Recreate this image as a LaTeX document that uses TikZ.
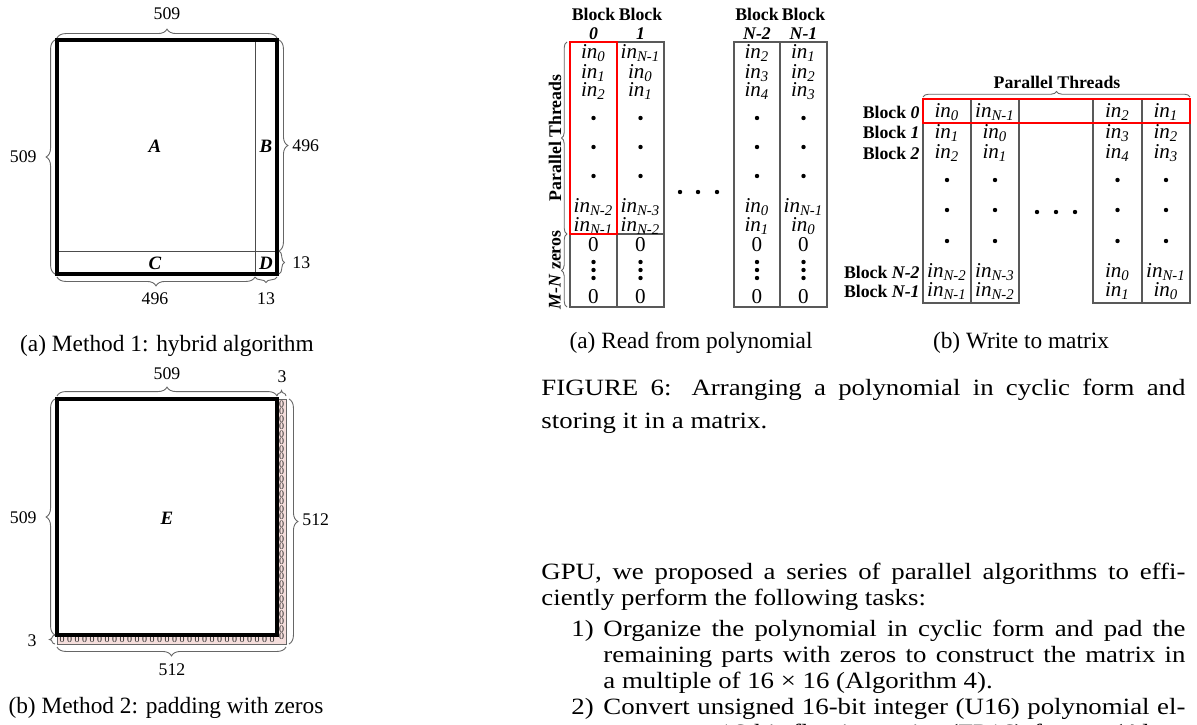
\documentclass[tikz,border=0pt]{standalone}
\usepackage{fontspec}
\setmainfont{Liberation Serif}
\newfontfamily\widefont[FakeStretch=1.15]{Liberation Serif}
\usetikzlibrary{decorations.pathreplacing}

\definecolor{padpink}{RGB}{245,222,220}
\newcommand{\cyc}[1]{\textit{in\textsubscript{#1}}}
\newcommand{\fullline}[2]{\makebox[\dimexpr0.45pt*#1\relax][s]{#2}}

\tikzset{
  brc/.style={decorate, decoration={brace, amplitude=4pt}, draw=black!60, line width=0.4pt},
  sbrc/.style={decorate, decoration={brace, amplitude=2.5pt}, draw=black!60, line width=0.4pt},
  dim/.style={font=\fontsize{8}{9}\selectfont, inner sep=0pt},
  part/.style={font=\fontsize{8.5}{10}\selectfont\bfseries\itshape, inner sep=0pt},
  cell/.style={font=\fontsize{9.5}{10}\selectfont, inner sep=0pt},
  hdr/.style={font=\fontsize{8}{9}\selectfont\bfseries, inner sep=0pt},
  captext/.style={font=\fontsize{10.5}{12}\selectfont, inner sep=0pt},
  body/.style={font=\widefont\fontsize{10.5}{12}\selectfont, inner sep=0pt, anchor=base west},
  zero/.style={font=\fontsize{4.5}{4.5}\selectfont, text=black!85, inner sep=0pt},
  thinline/.style={draw=black!70, line width=0.4pt},
  grid/.style={draw=black!65, line width=0.5pt},
}

\begin{document}
\begin{tikzpicture}[x=0.45pt, y=-0.45pt]
  \clip (0,0) rectangle (1197,724);
  \fill[white] (0,0) rectangle (1197,724);

  % method 1: hybrid algorithm
  \draw[thinline] (255,40) -- (255,274);
  \draw[thinline] (57,251) -- (277,251);
  \draw[line width=1.5pt] (57,40) rectangle (277,274);
  \node[part] (pa) at (155,146) {A};
  \node[part] (pb) at (266,146) {B};
  \node[part] (pc) at (155,263) {C};
  \node[part] (pd) at (266,263) {D};
  \draw[brc] (57,38) -- (277,38);
  \node[dim, anchor=south] (w1) at (167,20) {509};
  \draw[brc] (55,274) -- (55,40);
  \node[dim, anchor=east] (h1) at (37,157) {509};
  \draw[brc] (279,40) -- (279,251);
  \node[dim, anchor=west] (hb) at (292,146) {496};
  \draw[sbrc] (279,251) -- (279,274);
  \node[dim, anchor=west] (hd) at (292,263) {13};
  \draw[brc] (255,277) -- (57,277);
  \node[dim, anchor=north] (wc) at (155,292) {496};
  \draw[sbrc] (277,277) -- (255,277);
  \node[dim, anchor=north] (wd) at (266,292) {13};
  \node[captext] (capa) at (167,346) {(a) Method 1: hybrid algorithm};

  % method 2: padding with zeros
  \fill[padpink, draw=black!60, line width=0.4pt] (57,399) rectangle (286,644);
  \fill[white] (57,399) rectangle (277,635);
  \foreach \i in {0,...,31}
    \node[zero] (zv\i) at (281.5,404+7.5*\i) {0};
  \foreach \i in {0,...,28}
    \node[zero] (zh\i) at (62+7.5*\i,639.5) {0};
  \draw[line width=1.5pt] (57,399) rectangle (277,635);
  \node[part] (pe) at (167,518) {E};
  \draw[brc] (57,396) -- (277,396);
  \node[dim, anchor=south] (w2) at (167,380) {509};
  \draw[sbrc] (277,396) -- (286,396);
  \node[dim, anchor=south] (w3) at (282,383) {3};
  \draw[brc] (55,635) -- (55,399);
  \node[dim, anchor=east] (h2) at (37,518) {509};
  \draw[sbrc] (55,644) -- (55,635);
  \node[dim, anchor=east] (h3) at (37,641) {3};
  \draw[brc] (289,399) -- (289,644);
  \node[dim, anchor=west] (h4) at (302,520) {512};
  \draw[brc] (286,647) -- (57,647);
  \node[dim, anchor=north] (w4) at (172,663) {512};
  \node[captext] (capb) at (166,708) {(b) Method 2: padding with zeros};

  % read from polynomial
  \draw[grid] (570,42) rectangle (664,307);
  \draw[grid] (617,42) -- (617,307);
  \draw[grid] (570,234) -- (664,234);
  \draw[grid] (734,42) rectangle (827,307);
  \draw[grid] (780,42) -- (780,307);
  \foreach \k/\x/\a/\b/\c/\d/\e in {1/593.5/0/1/2/{N-2}/{N-1}, 2/640.5/{N-1}/0/1/{N-3}/{N-2}, 3/757/2/3/4/0/1, 4/803.5/1/2/3/{N-1}/0} {
    \node[cell] (rd\k-a) at (\x,53) {\cyc{\a}};
    \node[cell] (rd\k-b) at (\x,73) {\cyc{\b}};
    \node[cell] (rd\k-c) at (\x,91) {\cyc{\c}};
    \node[cell] (rd\k-d) at (\x,207) {\cyc{\d}};
    \node[cell] (rd\k-e) at (\x,226) {\cyc{\e}};
    \node[cell] (rd\k-f) at (\x,245) {0};
    \node[cell] (rd\k-g) at (\x,297) {0};
    \foreach \y in {118,147,176,262,270,278}
      \fill (\x,\y) circle (2.2);
  }
  \draw[red, line width=1pt] (570,42) rectangle (617,234);
  \foreach \x in {680,698,717}
    \fill (\x,192) circle (2.2);
  \node[hdr] (rh1) at (593.5,14) {Block};
  \node[hdr] (rh2) at (640.5,14) {Block};
  \node[hdr] (rh3) at (757,14) {Block};
  \node[hdr] (rh4) at (803.5,14) {Block};
  \node[hdr, anchor=south] (rn1) at (593.5,40) {\textit{0}};
  \node[hdr, anchor=south] (rn2) at (640.5,40) {\textit{1}};
  \node[hdr, anchor=south] (rn3) at (757,40) {\textit{N-2}};
  \node[hdr, anchor=south] (rn4) at (803.5,40) {\textit{N-1}};
  \draw[sbrc] (567,234) -- (567,42);
  \node[hdr, rotate=90] (pt1) at (555,138) {Parallel Threads};
  \draw[sbrc] (567,307) -- (567,234);
  \node[hdr, rotate=90] (mz) at (555,270) {\textit{M-N} zeros};
  \node[captext] (capc) at (691,343) {(a) Read from polynomial};

  % write to matrix
  \draw[grid] (923,99) rectangle (1019,303);
  \draw[grid] (971,99) -- (971,303);
  \draw[grid] (1093,99) rectangle (1190,303);
  \draw[grid] (1142,99) -- (1142,303);
  \foreach \k/\x/\a/\b/\c/\d/\e in {1/947/0/1/2/{N-2}/{N-1}, 2/995/{N-1}/0/1/{N-3}/{N-2}, 3/1117.5/2/3/4/0/1, 4/1166/1/2/3/{N-1}/0} {
    \node[cell] (wr\k-a) at (\x,112) {\cyc{\a}};
    \node[cell] (wr\k-b) at (\x,133) {\cyc{\b}};
    \node[cell] (wr\k-c) at (\x,153) {\cyc{\c}};
    \node[cell] (wr\k-d) at (\x,272) {\cyc{\d}};
    \node[cell] (wr\k-e) at (\x,291) {\cyc{\e}};
    \foreach \y in {180,210,241}
      \fill (\x,\y) circle (2.2);
  }
  \draw[red, line width=1pt] (923,99) rectangle (1190,123);
  \foreach \x in {1037,1056,1075}
    \fill (\x,212) circle (2.2);
  \node[hdr, anchor=east] (bk0) at (920,112) {Block \textit{0}};
  \node[hdr, anchor=east] (bk1) at (920,132) {Block \textit{1}};
  \node[hdr, anchor=east] (bk2) at (920,153) {Block \textit{2}};
  \node[hdr, anchor=east] (bk3) at (920,272) {Block \textit{N-2}};
  \node[hdr, anchor=east] (bk4) at (920,291) {Block \textit{N-1}};
  \draw[sbrc] (923,97) -- (1190,97);
  \node[hdr] (pt2) at (1057,82) {Parallel Threads};
  \node[captext] (capd) at (1021,343) {(b) Write to matrix};

  % caption and text
  \node[body] (c1) at (541,395) {\fullline{644}{FIGURE 6: Arranging a polynomial in cyclic form and}};
  \node[body] (c2) at (541,428) {storing it in a matrix.};
  \node[body] (t1) at (541,579) {\fullline{644}{GPU, we proposed a series of parallel algorithms to effi-}};
  \node[body] (t2) at (541,605) {ciently perform the following tasks:};
  \node[body] (n1) at (571,636) {1)};
  \node[body] (t3) at (603,636) {\fullline{582}{Organize the polynomial in cyclic form and pad the}};
  \node[body] (t4) at (603,662) {\fullline{582}{remaining parts with zeros to construct the matrix in}};
  \node[body] (t5) at (603,688) {a multiple of 16 × 16 (Algorithm 4).};
  \node[body] (n2) at (571,714) {2)};
  \node[body] (t6) at (603,714) {\fullline{582}{Convert unsigned 16-bit integer (U16) polynomial el-}};
  \node[body] (t7) at (603,740) {\fullline{582}{ements to 16-bit floating point (FP16) format (Algo-}};
\end{tikzpicture}
\end{document}
